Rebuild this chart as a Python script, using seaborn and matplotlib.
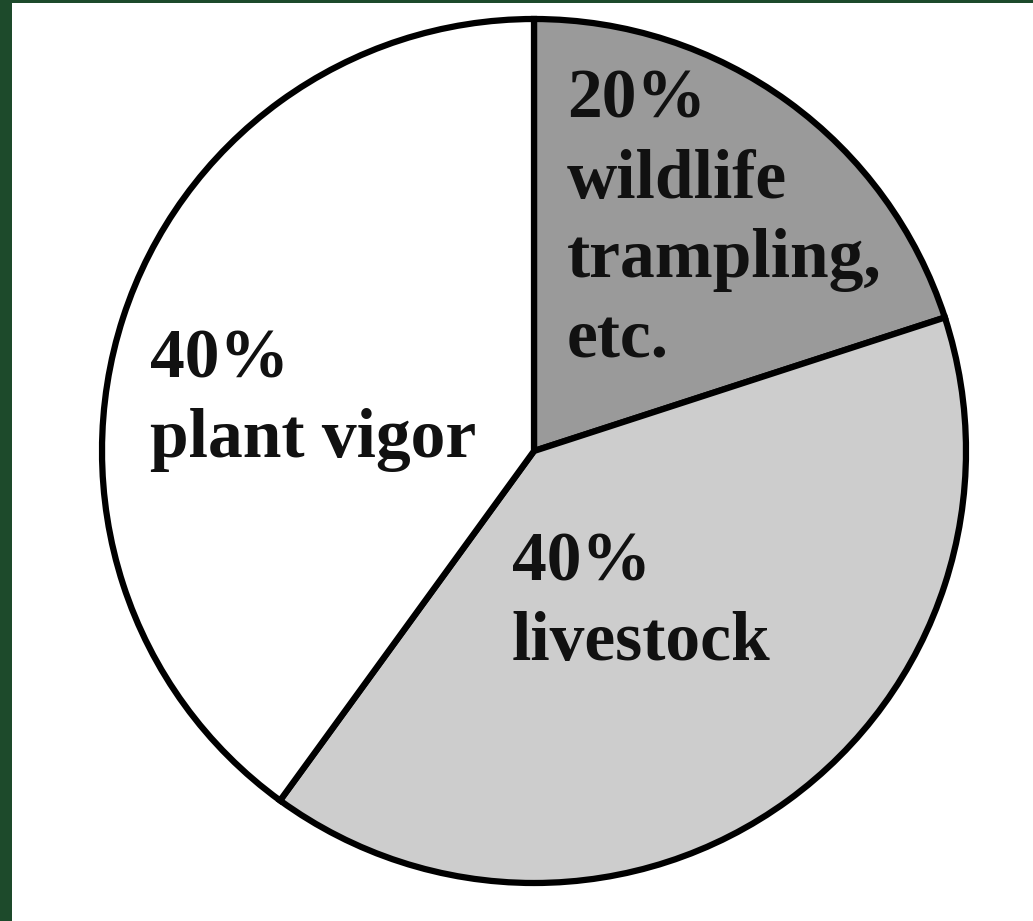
import matplotlib
matplotlib.use("Agg")
import matplotlib.pyplot as plt
import seaborn as sns
from matplotlib.patches import Rectangle

# Data
categories = ["wildlife trampling, etc.", "livestock", "plant vigor"]
shares = [20, 40, 40]
label_texts = ["20%\nwildlife\ntrampling,\netc.", "40%\nlivestock", "40%\nplant vigor"]
wedge_colors = ["#9a9a9a", "#cdcdcd", "#ffffff"]

sns.set_theme(style="white")
plt.rcParams["font.family"] = ["Liberation Serif", "DejaVu Serif"]

W, H = 1033, 921
fig = plt.figure(figsize=(W / 100, H / 100), dpi=100)
fig.patch.set_facecolor("white")
ax = fig.add_axes([0, 0, 1, 1])

cx, cy, r = 534, H - 451, 432
ax.pie(shares, colors=wedge_colors, startangle=90, counterclock=False,
       center=(cx, cy), radius=r, frame=True,
       wedgeprops=dict(edgecolor="black", linewidth=4.5))
ax.set_xlim(0, W)
ax.set_ylim(0, H)
ax.set_aspect("equal")
ax.axis("off")

# label anchors (last-line baseline), image pixel coords
label_pos = [(567, 357), (512, 660), (150, 457)]
for txt, (x, y) in zip(label_texts, label_pos):
    ax.text(x, H - y, txt, ha="left", va="baseline", fontsize=50,
            fontweight="bold", color="#111111", linespacing=1.32)

# dark green frame edges
green = "#1d4a2b"
fig.patches.append(Rectangle((0, 0), 12 / W, 1, transform=fig.transFigure,
                             facecolor=green, edgecolor="none", zorder=10))
fig.patches.append(Rectangle((0, 1 - 3 / H), 1, 3 / H, transform=fig.transFigure,
                             facecolor=green, edgecolor="none", zorder=10))

fig.savefig("out.png", dpi=100, facecolor="white")
